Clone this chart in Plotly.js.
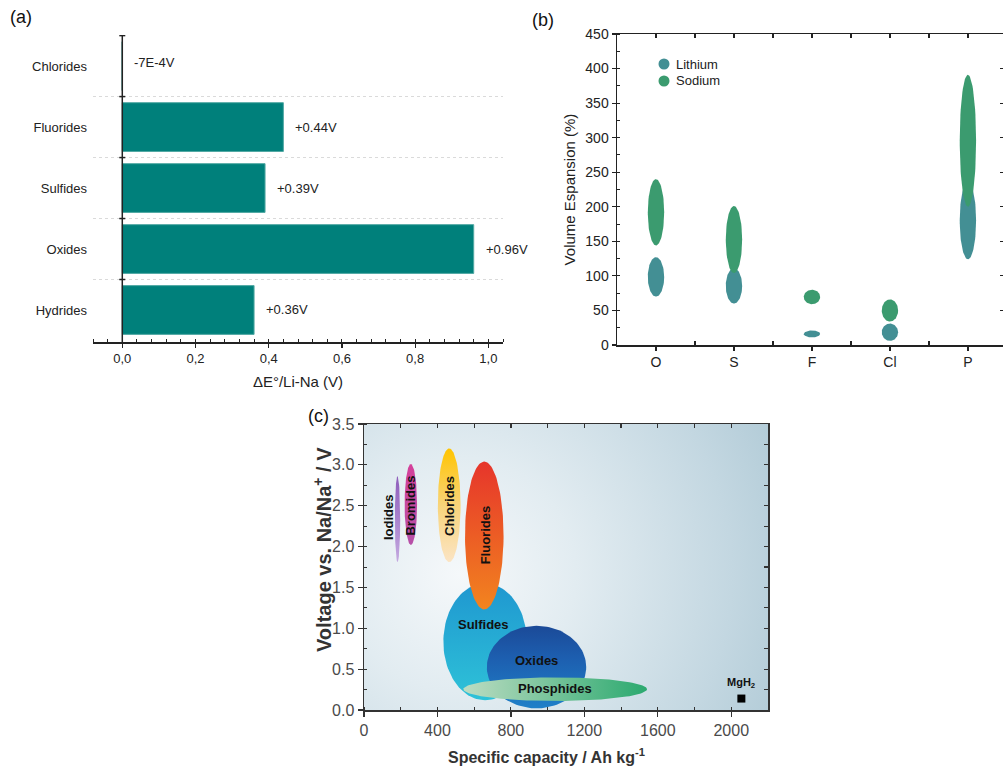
<!DOCTYPE html>
<html>
<head>
<meta charset="utf-8">
<script src="https://cdn.plot.ly/plotly-3.0.1.min.js"></script>
<style>
  html, body { margin: 0; padding: 0; background: #fff; }
  #chart { width: 1003px; height: 770px; }
</style>
</head>
<body>
<div id="chart"></div>
<script>
// ---- (a) redox potential shift Li -> Na, per anion family ----
const shiftCategories = ['Hydrides', 'Oxides', 'Sulfides', 'Fluorides', 'Chlorides'];
const shiftValues = [0.36, 0.96, 0.39, 0.44, -0.0007];
const shiftTickVals = [0, 0.2, 0.4, 0.6, 0.8, 1.0];
const shiftTickText = ['0,0', '0,2', '0,4', '0,6', '0,8', '1,0'];

// ---- (b) volume expansion ranges (%) ----
const anionCategories = ['O', 'S', 'F', 'Cl', 'P'];
const lithiumLow  = [70, 60, 11, 6, 124];
const lithiumHigh = [127, 111, 21, 31, 236];
const sodiumLow   = [144, 104, 59, 34, 200];
const sodiumHigh  = [240, 201, 80, 66, 391];
const ionNames = ['Lithium', 'Sodium'];

// ---- (c) voltage / capacity domains of conversion materials ----
const families    = ['Iodides', 'Bromides', 'Chlorides', 'Sulfides', 'Fluorides', 'Oxides', 'Phosphides'];
const capacityMin = [168, 221, 402, 432, 550, 669, 541];
const capacityMax = [197, 289, 526, 887, 760, 1210, 1541];
const voltageMin  = [1.81, 2.02, 1.81, 0.12, 1.23, 0.02, 0.11];
const voltageMax  = [2.86, 3.01, 3.20, 1.55, 3.04, 1.03, 0.40];
const mgh2Capacity = [2055];
const mgh2Voltage  = [0.14];

const FONT = 'Liberation Sans, Arial, sans-serif';
const INK = '#222';
const LI_COLOR = '#438f94';
const NA_COLOR = '#3b9b6f';

// closed ellipse outline spanning [x0,x1] x [y0,y1]
function ellipse(x0, x1, y0, y1, n) {
  n = n || 90;
  const cx = (x0 + x1) / 2, cy = (y0 + y1) / 2, rx = (x1 - x0) / 2, ry = (y1 - y0) / 2;
  const xs = [], ys = [];
  for (let k = 0; k <= n; k++) {
    const t = 2 * Math.PI * k / n;
    xs.push(cx + rx * Math.cos(t));
    ys.push(cy + ry * Math.sin(t));
  }
  return { x: xs, y: ys };
}
const W = 1003, H = 770;
const px = v => v / W, py = v => 1 - v / H;

const traces = [];
const shapes = [];
const annotations = [];

// ---------- (a) ----------
const shiftIdx = shiftCategories.map((_, i) => i);
traces.push({
  type: 'bar', orientation: 'h', x: shiftValues, y: shiftIdx, width: 0.8,
  marker: { color: '#00807b', line: { color: '#52a9a4', width: 1 } },
  xaxis: 'x', yaxis: 'y', showlegend: false, hoverinfo: 'skip'
});
function shiftLabel(v) {
  if (Math.abs(v) < 0.01) return v.toExponential(0).toUpperCase() + 'V';
  return (v >= 0 ? '+' : '') + v.toFixed(2) + 'V';
}
shiftValues.forEach((v, i) => {
  annotations.push({
    x: Math.max(v, 0), y: i, xref: 'x', yref: 'y', text: shiftLabel(v),
    showarrow: false, xanchor: 'left', xshift: 10, yshift: (Math.abs(v) < 0.01 ? 4 : 0),
    font: { family: FONT, size: 13, color: INK }
  });
});
// vertical axis line at zero and its category-boundary ticks
shapes.push({ type: 'line', xref: 'x', yref: 'y domain', x0: 0, x1: 0, y0: 0, y1: 1,
  line: { color: INK, width: 1.5 }, layer: 'above' });
[0.5, 1.5, 2.5, 3.5, 4.5].forEach(b => {
  shapes.push({ type: 'line', xref: 'x', yref: 'y', xsizemode: 'pixel', xanchor: 0,
    x0: -3, x1: 3, y0: b, y1: b, line: { color: INK, width: 1.5 }, layer: 'above' });
});

// ---------- (b) ----------
const HALF_W = 0.105;
[[lithiumLow, lithiumHigh, LI_COLOR, ionNames[0]], [sodiumLow, sodiumHigh, NA_COLOR, ionNames[1]]].forEach(([lo, hi, col, name]) => {
  anionCategories.forEach((c, i) => {
    const e = ellipse(i - HALF_W, i + HALF_W, lo[i], hi[i]);
    traces.push({
      type: 'scatter', mode: 'lines', x: e.x, y: e.y, fill: 'toself', fillcolor: col,
      line: { width: 0, color: col }, xaxis: 'x2', yaxis: 'y2', showlegend: false,
      hoverinfo: 'skip', name: name + ' ' + c
    });
  });
});
// key for (b)
[[ionNames[0], LI_COLOR, 64], [ionNames[1], NA_COLOR, 81]].forEach(([name, col, yy]) => {
  shapes.push({ type: 'circle', xref: 'paper', yref: 'paper', xsizemode: 'pixel', ysizemode: 'pixel',
    xanchor: px(664), yanchor: py(yy), x0: -5.5, x1: 5.5, y0: -5.5, y1: 5.5,
    fillcolor: col, line: { width: 0 } });
  annotations.push({ text: name, xref: 'paper', yref: 'paper', x: px(674), y: py(yy),
    xanchor: 'left', yanchor: 'middle', showarrow: false, font: { family: FONT, size: 13, color: INK } });
});
// carrier for the inner-tick frame axes of (b)
traces.push({ type: 'scatter', mode: 'markers', x: [0], y: [-100], xaxis: 'x5', yaxis: 'y5',
  showlegend: false, hoverinfo: 'skip', marker: { opacity: 0 } });

// ---------- (c) ----------
const familyFill = {
  Iodides:    { type: 'vertical',   colorscale: [[0, '#c4a9e0'], [1, '#8e5dbb']] },
  Bromides:   { type: 'vertical',   colorscale: [[0, '#b650a8'], [1, '#d4409a']] },
  Chlorides:  { type: 'vertical',   colorscale: [[0, '#fbe4c4'], [0.5, '#f8d47a'], [1, '#ffc400']] },
  Sulfides:   { type: 'vertical',   colorscale: [[0, '#2ec2d8'], [1, '#1f97d0']] },
  Fluorides:  { type: 'vertical',   colorscale: [[0, '#f2841f'], [1, '#e6352b']] },
  Oxides:     { type: 'vertical',   colorscale: [[0, '#1f80c8'], [0.6, '#1d5fb0'], [1, '#1b4a98']] },
  Phosphides: { type: 'horizontal', colorscale: [[0, '#bcdcc2'], [1, '#2ba96f']] }
};
families.forEach((f, i) => {
  const e = ellipse(capacityMin[i], capacityMax[i], voltageMin[i], voltageMax[i], 120);
  traces.push({
    type: 'scatter', mode: 'lines', x: e.x, y: e.y, fill: 'toself',
    fillgradient: familyFill[f], line: { width: 0, color: 'rgba(0,0,0,0)' },
    xaxis: 'x3', yaxis: 'y3', showlegend: false, hoverinfo: 'skip', name: f
  });
});
traces.push({
  type: 'scatter', mode: 'markers', x: mgh2Capacity, y: mgh2Voltage, name: 'MgH2',
  marker: { symbol: 'square', size: 8, color: '#000' },
  xaxis: 'x3', yaxis: 'y3', showlegend: false, hoverinfo: 'skip'
});
traces.push({ type: 'scatter', mode: 'markers', x: [0], y: [-10], xaxis: 'x4', yaxis: 'y4',
  showlegend: false, hoverinfo: 'skip', marker: { opacity: 0 } });

// family labels inside the domains
const familyLabels = [
  { text: 'Iodides',    x: 130,  y: 2.36, angle: -90 },
  { text: 'Bromides',   x: 255,  y: 2.50, angle: -90 },
  { text: 'Chlorides',  x: 464,  y: 2.50, angle: -90 },
  { text: 'Fluorides',  x: 660,  y: 2.14, angle: -90 },
  { text: 'Sulfides',   x: 652,  y: 1.05, angle: 0 },
  { text: 'Oxides',     x: 940,  y: 0.61, angle: 0 },
  { text: 'Phosphides', x: 1038, y: 0.26, angle: 0 }
];
familyLabels.forEach(l => annotations.push({
  x: l.x, y: l.y, xref: 'x3', yref: 'y3', text: '<b>' + l.text + '</b>', textangle: l.angle,
  showarrow: false, font: { family: FONT, size: 13, color: '#111' }
}));
annotations.push({ x: mgh2Capacity[0], y: mgh2Voltage[0], xref: 'x3', yref: 'y3', yshift: 16,
  text: '<b>MgH<sub>2</sub></b>', showarrow: false, font: { family: FONT, size: 11, color: '#111' } });

// axis titles of (c)
annotations.push({ text: '<b>Specific capacity / Ah kg<sup>-1</sup></b>', xref: 'paper', yref: 'paper',
  x: px(546), y: py(756), xanchor: 'center', yanchor: 'middle', showarrow: false,
  font: { family: FONT, size: 16, color: '#333' } });
annotations.push({ text: '<b>Voltage vs. Na/Na<sup>+</sup> / V</b>', xref: 'paper', yref: 'paper',
  x: px(322), y: py(550), xanchor: 'center', yanchor: 'middle', textangle: -90, showarrow: false,
  font: { family: FONT, size: 20, color: '#333' } });

// panel letters
[['(a)', 8, 17], ['(b)', 530, 20], ['(c)', 306, 416]].forEach(([t, x, y]) => annotations.push({
  text: t, xref: 'paper', yref: 'paper', x: px(x), y: py(y), xanchor: 'left', yanchor: 'middle',
  showarrow: false, font: { family: FONT, size: 18, color: '#111' }
}));

// soft radial backdrop for (c)
const bg = document.createElement('canvas');
bg.width = 404; bg.height = 286;
const g2 = bg.getContext('2d');
const grad = g2.createRadialGradient(95, 150, 0, 95, 150, 390);
grad.addColorStop(0, '#f5f8fa');
grad.addColorStop(0.3, '#e2ecf1');
grad.addColorStop(0.7, '#c3d7e1');
grad.addColorStop(1, '#a9c5d2');
g2.fillStyle = grad;
g2.fillRect(0, 0, bg.width, bg.height);

const axisLine = { showline: true, linecolor: INK, linewidth: 1.5, showgrid: false, zeroline: false };

const layout = {
  width: W, height: H,
  margin: { l: 0, r: 0, t: 0, b: 0 },
  paper_bgcolor: '#fff', plot_bgcolor: 'rgba(0,0,0,0)',
  font: { family: FONT, color: INK },
  showlegend: false,

  // (a)
  xaxis: Object.assign({}, axisLine, {
    domain: [px(93), px(503)], anchor: 'y', range: [-0.08, 1.04],
    tickmode: 'array', tickvals: shiftTickVals, ticktext: shiftTickText,
    ticks: 'outside', ticklen: 4, tickwidth: 1.2, tickcolor: INK,
    minor: { tick0: 0, dtick: 0.04, ticks: 'inside', ticklen: 3, tickwidth: 1, tickcolor: INK },
    tickfont: { size: 13, color: INK },
    title: { text: 'ΔE°/Li-Na (V)', font: { size: 15, color: INK }, standoff: 11 }
  }),
  yaxis: {
    domain: [py(342), py(35)], anchor: 'x', range: [-0.525, 4.51],
    tickmode: 'array', tickvals: shiftIdx, ticktext: shiftCategories, ticks: '',
    ticklabelstandoff: 5,
    showline: false, showgrid: false, zeroline: false,
    minor: { tickmode: 'array', tickvals: [0.5, 1.5, 2.5, 3.5], ticks: '', showgrid: true,
      gridcolor: '#dadada', griddash: 'dot', gridwidth: 1 },
    tickfont: { size: 13, color: INK }
  },

  // (b)
  xaxis2: Object.assign({}, axisLine, {
    domain: [px(617), 1], anchor: 'y2', range: [-0.5, 4.45], mirror: true,
    tickmode: 'array', tickvals: [0, 1, 2, 3, 4], ticktext: anionCategories,
    ticks: 'outside', ticklen: 4, tickwidth: 1.2, tickcolor: INK,
    minor: { tickmode: 'array', tickvals: [0.5, 1.5, 2.5, 3.5], ticks: 'inside', ticklen: 4, tickwidth: 1.2, tickcolor: INK },
    tickfont: { size: 14, color: INK }
  }),
  yaxis2: Object.assign({}, axisLine, {
    domain: [py(345), py(34)], anchor: 'x2', range: [0, 450], dtick: 50,
    ticks: 'outside', ticklen: 4, tickwidth: 1.2, tickcolor: INK,
    minor: { dtick: 25, ticks: 'inside', ticklen: 3, tickwidth: 1, tickcolor: INK },
    tickfont: { size: 14, color: INK },
    title: { text: 'Volume Espansion (%)', font: { size: 15, color: INK }, standoff: 6 }
  }),
  xaxis5: {
    overlaying: 'x2', side: 'top', anchor: 'y5', range: [-0.5, 4.45],
    tickmode: 'array', tickvals: [0, 0.5, 1, 1.5, 2, 2.5, 3, 3.5, 4], ticks: 'inside', ticklen: 4,
    tickwidth: 1.2, tickcolor: INK, showticklabels: false, showgrid: false, zeroline: false, showline: false
  },
  yaxis5: {
    overlaying: 'y2', side: 'right', anchor: 'x5', range: [0, 450], dtick: 50,
    ticks: 'inside', ticklen: 3, tickwidth: 1.2, tickcolor: INK,
    showticklabels: false, showgrid: false, zeroline: false, showline: false
  },

  // (c)
  xaxis3: Object.assign({}, axisLine, {
    domain: [px(364), px(768)], anchor: 'y3', range: [0, 2200], dtick: 400, mirror: true, linecolor: '#333',
    ticks: 'outside', ticklen: 5, tickwidth: 1.2, tickcolor: '#333',
    minor: { dtick: 200, ticks: 'inside', ticklen: 3, tickwidth: 1, tickcolor: '#333' },
    tickfont: { size: 16, color: '#4a4a4a' }
  }),
  yaxis3: Object.assign({}, axisLine, {
    domain: [py(710), py(424)], anchor: 'x3', range: [0, 3.5], dtick: 0.5, tickformat: '.1f',
    mirror: true, linecolor: '#333',
    ticks: 'outside', ticklen: 5, tickwidth: 1.2, tickcolor: '#333',
    minor: { dtick: 0.25, ticks: 'inside', ticklen: 3, tickwidth: 1, tickcolor: '#333' },
    tickfont: { size: 16, color: '#4a4a4a' }
  }),
  xaxis4: {
    overlaying: 'x3', side: 'top', anchor: 'y4', range: [0, 2200], dtick: 200,
    ticks: 'inside', ticklen: 4, tickwidth: 1.2, tickcolor: '#333',
    showticklabels: false, showgrid: false, zeroline: false, showline: false
  },
  yaxis4: {
    overlaying: 'y3', side: 'right', anchor: 'x4', range: [0, 3.5], dtick: 0.25,
    ticks: 'inside', ticklen: 4, tickwidth: 1.2, tickcolor: '#333',
    showticklabels: false, showgrid: false, zeroline: false, showline: false
  },

  images: [{
    source: bg.toDataURL('image/png'), xref: 'x3', yref: 'y3', x: 0, y: 3.5,
    sizex: 2200, sizey: 3.5, sizing: 'stretch', xanchor: 'left', yanchor: 'top', layer: 'below'
  }],
  shapes: shapes,
  annotations: annotations
};

Plotly.newPlot('chart', traces, layout, { displayModeBar: false, staticPlot: true });
</script>
</body>
</html>
